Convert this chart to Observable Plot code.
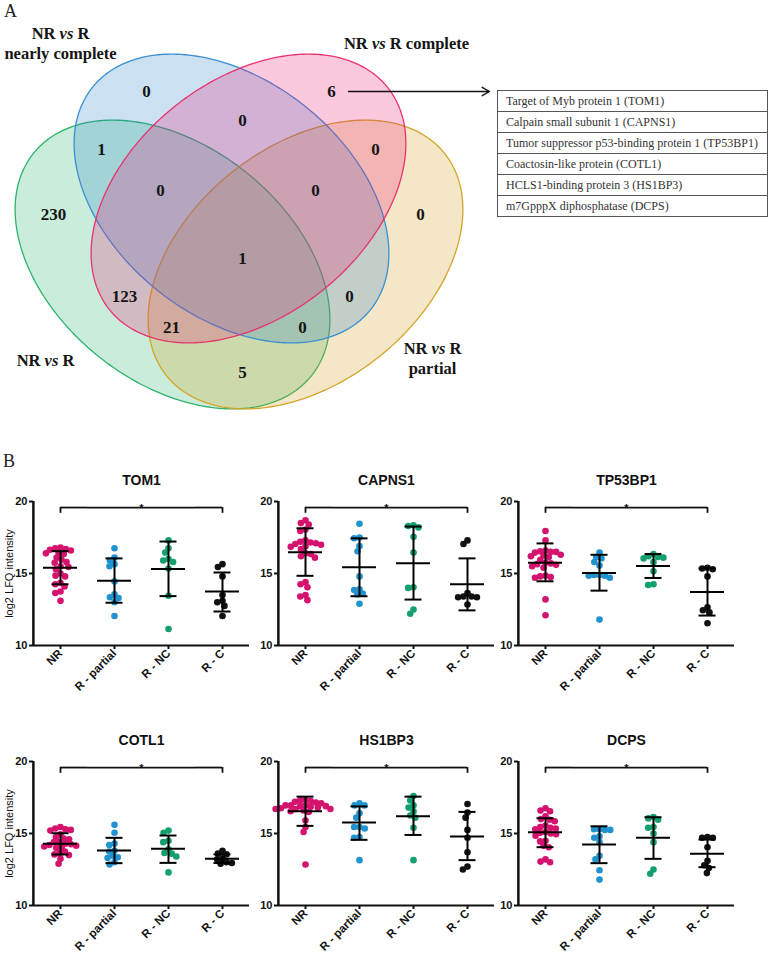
<!DOCTYPE html>
<html><head><meta charset="utf-8">
<script src="https://cdn.jsdelivr.net/npm/d3@7"></script>
<script src="https://cdn.jsdelivr.net/npm/@observablehq/plot@0.6"></script>
<style>
html,body{margin:0;padding:0;background:#fff;}
body{width:770px;height:955px;position:relative;overflow:hidden;}
.abs{position:absolute;}
.lbl{font-family:"Liberation Serif","Times New Roman",serif;font-size:18px;color:#222;line-height:1;}
table.prot{border-collapse:collapse;font-family:"Liberation Serif","Times New Roman",serif;font-size:12px;color:#333;background:#fff;}
table.prot td{border:1px solid #555;height:20px;padding:0 0 0 8px;width:261px;white-space:nowrap;}
svg{overflow:visible;}
</style></head><body>
<script>
// ---------------- Venn data ----------------
const vennSetNames = ["NR vs R", "NR vs R partial", "NR vs R nearly complete", "NR vs R complete"];
const vennRegions = ["B", "BP", "P", "GB", "PY", "GBP", "BPY", "G", "Y", "GBPY", "GP", "BY", "GPY", "GBY", "GY"];
const vennCounts  = [0, 0, 6, 1, 0, 0, 0, 230, 0, 1, 123, 0, 21, 0, 5];
const proteins = [
  "Target of Myb protein 1 (TOM1)",
  "Calpain small subunit 1 (CAPNS1)",
  "Tumor suppressor p53-binding protein 1 (TP53BP1)",
  "Coactosin-like protein (COTL1)",
  "HCLS1-binding protein 3 (HS1BP3)",
  "m7GpppX diphosphatase (DCPS)"
];

// ---------------- Dot-plot data ----------------
const groups = ["NR", "R - partial", "R - NC", "R - C"];
const yTicks = [10, 15, 20];
const comparison = ["NR", "R - C"];
const sigLabel = "*";

const TOM1_NR = [16.8, 16.75, 16.7, 16.65, 16.6, 16.45, 16.4, 16.35, 16.1, 15.95, 15.8, 15.75, 15.5, 15.45, 15.3, 15.0, 14.85, 14.8, 14.35, 14.25, 14.1, 13.75, 13.65, 13.1];
const TOM1_Rpartial = [16.75, 16.1, 15.9, 15.65, 15.5, 14.45, 13.55, 13.35, 13.3, 13.0, 12.05];
const TOM1_RNC = [17.3, 16.75, 16.45, 16.0, 15.9, 15.8, 15.35, 13.45, 11.15];
const TOM1_RC = [15.65, 15.45, 14.8, 13.5, 13.1, 13.0, 12.75, 12.05];
const TOM1_mean = [15.4, 14.5, 15.32, 13.75];
const TOM1_hi = [16.55, 16.05, 17.22, 15.07];
const TOM1_lo = [14.25, 12.97, 13.43, 12.36];

const CAPNS1_NR = [18.7, 18.5, 18.4, 18.05, 17.95, 17.3, 17.2, 17.15, 17.1, 17.05, 17.0, 16.9, 16.85, 16.7, 16.4, 16.35, 16.2, 16.1, 14.4, 14.25, 14.05, 13.5, 13.4, 13.15];
const CAPNS1_Rpartial = [18.45, 17.5, 17.45, 16.9, 16.55, 14.8, 13.9, 13.85, 13.6, 13.55, 12.9];
const CAPNS1_RNC = [18.35, 18.3, 18.2, 17.55, 16.45, 14.05, 14.0, 12.5, 12.2];
const CAPNS1_RC = [17.3, 17.05, 13.65, 13.4, 13.4, 13.35, 13.35, 12.85];
const CAPNS1_mean = [16.47, 15.44, 15.72, 14.26];
const CAPNS1_hi = [18.14, 17.44, 18.26, 16.05];
const CAPNS1_lo = [14.84, 13.42, 13.19, 12.44];

const TP53BP1_NR = [17.95, 17.3, 16.6, 16.55, 16.5, 16.5, 16.45, 16.3, 16.25, 16.2, 16.15, 15.95, 15.75, 15.7, 15.65, 15.6, 15.5, 15.4, 14.85, 14.8, 14.75, 14.7, 13.2, 12.1];
const TP53BP1_Rpartial = [16.45, 16.15, 16.05, 15.8, 15.55, 14.9, 14.9, 14.85, 14.85, 14.7, 11.8];
const TP53BP1_RNC = [16.35, 16.2, 16.15, 16.1, 16.05, 15.8, 15.15, 14.25, 14.2];
const TP53BP1_RC = [15.4, 15.35, 15.3, 14.8, 12.65, 12.45, 12.3, 11.55];
const TP53BP1_mean = [15.75, 15.03, 15.52, 13.72];
const TP53BP1_hi = [17.09, 16.3, 16.35, 15.36];
const TP53BP1_lo = [14.46, 13.81, 14.69, 12.08];

const COTL1_NR = [15.45, 15.35, 15.3, 15.25, 15.2, 14.95, 14.75, 14.65, 14.6, 14.4, 14.4, 14.3, 14.25, 14.2, 14.15, 14.1, 14.05, 14.0, 13.75, 13.65, 13.55, 13.5, 13.25, 12.9];
const COTL1_Rpartial = [15.6, 15.05, 14.3, 14.2, 13.8, 13.75, 13.45, 13.35, 13.3, 13.0, 12.85];
const COTL1_RNC = [15.2, 15.05, 14.5, 14.4, 13.9, 13.65, 13.6, 13.4, 12.3];
const COTL1_RC = [13.8, 13.6, 13.55, 13.25, 13.2, 13.0, 12.95, 12.9];
const COTL1_mean = [14.28, 13.82, 13.94, 13.24];
const COTL1_hi = [15.02, 14.7, 14.86, 13.55];
const COTL1_lo = [13.54, 12.94, 12.96, 12.95];

const HS1BP3_NR = [17.35, 17.3, 17.25, 17.2, 17.15, 17.1, 16.95, 16.95, 16.95, 16.9, 16.9, 16.85, 16.8, 16.75, 16.7, 16.7, 16.7, 16.6, 16.55, 16.5, 15.9, 15.45, 15.1, 12.85];
const HS1BP3_Rpartial = [17.1, 16.95, 16.95, 16.4, 16.1, 15.45, 15.45, 15.35, 14.75, 14.7, 13.15];
const HS1BP3_RNC = [17.6, 17.3, 16.95, 16.8, 16.55, 16.25, 16.1, 15.4, 13.15];
const HS1BP3_RC = [17.05, 16.45, 16.1, 15.25, 14.7, 13.7, 12.7, 12.5];
const HS1BP3_mean = [16.55, 15.77, 16.2, 14.8];
const HS1BP3_hi = [17.56, 16.88, 17.56, 16.5];
const HS1BP3_lo = [15.53, 14.56, 14.9, 13.15];

const DCPS_NR = [16.75, 16.6, 16.55, 16.2, 16.0, 15.95, 15.85, 15.55, 15.45, 15.4, 15.35, 15.3, 15.1, 15.05, 15.0, 14.95, 14.85, 14.5, 14.45, 14.15, 14.05, 13.2, 13.05, 13.0];
const DCPS_Rpartial = [15.3, 15.3, 15.25, 15.25, 14.8, 14.7, 14.4, 13.45, 13.2, 12.45, 11.8];
const DCPS_RNC = [16.15, 16.05, 15.95, 15.45, 15.4, 15.0, 14.4, 12.5, 12.2];
const DCPS_RC = [14.75, 14.7, 14.7, 14.05, 13.1, 12.8, 12.6, 12.25];
const DCPS_mean = [15.09, 14.24, 14.7, 13.59];
const DCPS_hi = [16.06, 15.5, 16.13, 14.58];
const DCPS_lo = [14.05, 12.94, 13.24, 12.66];

// ---------------- Styles / layout ----------------
const groupColors = ["#d4136e", "#2192d0", "#14a06c", "#111111"];
const ellipseStyle = {
  "NR vs R":                 {cx: 172, cy: 264, rotate: 38.6,  stroke: "#2db36a", fill: "#1fb363"},
  "NR vs R partial":         {cx: 305, cy: 264, rotate: -38.6, stroke: "#d4a52a", fill: "#cf9b13"},
  "NR vs R nearly complete": {cx: 231, cy: 198, rotate: 38.6,  stroke: "#3a8fd3", fill: "#2783c7"},
  "NR vs R complete":        {cx: 248, cy: 198, rotate: -38.6, stroke: "#e8336f", fill: "#ef1b73"}
};
const ellipseRadii = {rx: 178, ry: 118};
const regionLabelPos = [[146,91],[242,120],[331,91],[101,149],[375,149],[160,190],[315,190],[53,214],[420,214],[242,258],[124,296],[349,296],[171,327],[302,327],[242,372]];
const setLabelLayout = [
  {set: "NR vs R nearly complete", lines: ["NR vs R", "nearly complete"], x: 60, y: 33},
  {set: "NR vs R complete", lines: ["NR vs R complete"], x: 406, y: 43},
  {set: "NR vs R", lines: ["NR vs R"], x: 45, y: 360},
  {set: "NR vs R partial", lines: ["NR vs R", "partial"], x: 432, y: 348}
];
const arrowLayout = {x1: 348, x2: 489, y: 91};

function ellipsePoints(e, n = 240) {
  const t = e.rotate * Math.PI / 180;
  return d3.range(n).map(k => {
    const a = 2 * Math.PI * k / n;
    const u = ellipseRadii.rx * Math.cos(a), v = ellipseRadii.ry * Math.sin(a);
    return {x: e.cx + u * Math.cos(t) - v * Math.sin(t), y: e.cy + u * Math.sin(t) + v * Math.cos(t)};
  });
}

function place(el, left, top) {
  const d = document.createElement("div");
  d.className = "abs";
  d.style.left = left + "px";
  d.style.top = top + "px";
  d.appendChild(el);
  document.body.appendChild(d);
  return d;
}

// ---------------- Venn diagram ----------------
const regionData = vennRegions.map((r, i) => ({region: r, count: vennCounts[i], x: regionLabelPos[i][0], y: regionLabelPos[i][1]}));
const setLabelData = setLabelLayout.flatMap(s => s.lines.map((line, k) => ({text: line, x: s.x, y: s.y + k * 20})));
const drawOrder = ["NR vs R", "NR vs R partial", "NR vs R nearly complete", "NR vs R complete"];

const venn = Plot.plot({
  width: 770, height: 440, margin: 0,
  x: {domain: [0, 770], range: [0, 770], axis: null},
  y: {domain: [0, 440], range: [0, 440], axis: null},
  style: {fontFamily: "'Liberation Serif','Times New Roman',serif", background: "transparent"},
  marks: [
    ...drawOrder.map(name => {
      const e = ellipseStyle[name];
      return Plot.line(ellipsePoints(e), {x: "x", y: "y", curve: "linear-closed", fill: e.fill, fillOpacity: 0.24, stroke: e.stroke, strokeWidth: 1.3});
    }),
    Plot.text(regionData, {x: "x", y: "y", text: d => String(d.count), fontSize: 17, fontWeight: "bold", fill: "#151515"}),
    Plot.text(setLabelData, {x: "x", y: "y", text: "text", fontSize: 16.5, fontWeight: "bold", fill: "#151515"}),
    Plot.arrow([arrowLayout], {x1: "x1", y1: "y", x2: "x2", y2: "y", stroke: "#111", strokeWidth: 1.4, headLength: 9})
  ]
});
d3.select(venn).selectAll("text").each(function () {
  const t = this.textContent;
  if (/ vs /.test(t)) {
    const [a, b] = t.split(" vs ");
    const s = d3.select(this);
    s.text(null);
    s.append("tspan").text(a + " ");
    s.append("tspan").attr("font-style", "italic").text("vs");
    s.append("tspan").text(" " + b);
  }
});
place(venn, 0, 0);

// letter labels
const A = document.createElement("div"); A.className = "lbl"; A.textContent = "A"; place(A, 4, 2);
const B = document.createElement("div"); B.className = "lbl"; B.textContent = "B"; place(B, 3, 452);

// protein table
const table = d3.create("table").attr("class", "prot");
table.selectAll("tr").data(proteins).join("tr").append("td").text(d => d);
place(table.node(), 497, 90);

// ---------------- Dot plots ----------------
const panels = [
  {title: "TOM1", series: [TOM1_NR, TOM1_Rpartial, TOM1_RNC, TOM1_RC], mean: TOM1_mean, hi: TOM1_hi, lo: TOM1_lo},
  {title: "CAPNS1", series: [CAPNS1_NR, CAPNS1_Rpartial, CAPNS1_RNC, CAPNS1_RC], mean: CAPNS1_mean, hi: CAPNS1_hi, lo: CAPNS1_lo},
  {title: "TP53BP1", series: [TP53BP1_NR, TP53BP1_Rpartial, TP53BP1_RNC, TP53BP1_RC], mean: TP53BP1_mean, hi: TP53BP1_hi, lo: TP53BP1_lo},
  {title: "COTL1", series: [COTL1_NR, COTL1_Rpartial, COTL1_RNC, COTL1_RC], mean: COTL1_mean, hi: COTL1_hi, lo: COTL1_lo},
  {title: "HS1BP3", series: [HS1BP3_NR, HS1BP3_Rpartial, HS1BP3_RNC, HS1BP3_RC], mean: HS1BP3_mean, hi: HS1BP3_hi, lo: HS1BP3_lo},
  {title: "DCPS", series: [DCPS_NR, DCPS_Rpartial, DCPS_RNC, DCPS_RC], mean: DCPS_mean, hi: DCPS_hi, lo: DCPS_lo}
];
const panelLeft = [0, 245, 485];
const rowTop = [460, 720];
const rowMarginBottom = [60, 50];
const mTop = 41, mLeft = 32, mRight = 4, innerW = 218, innerH = 144;
const bandW = innerW / groups.length;
const bracketY = 19.58, bracketDrop = 19.18;

function panelPlot(p, showYLabel, marginBottom) {
  const rows = groups.flatMap((g, i) => p.series[i].map(v => ({g, v})));
  const stats = groups.map((g, i) => ({g, mean: p.mean[i], lo: p.lo[i], hi: p.hi[i]}));
  const i0 = groups.indexOf(comparison[0]), i1 = groups.indexOf(comparison[1]);
  const span = groups.slice(i0, i1 + 1).map((g, k, a) => ({g, x1: k === 0 ? 0.5 : 0, x2: k === a.length - 1 ? 0.5 : 1}));
  const ends = comparison.map(g => ({g, y1: bracketY, y2: bracketDrop}));
  const yLine = [{g: groups[0], y1: yTicks[0], y2: yTicks[yTicks.length - 1]}];
  const midIdx = Math.floor((i0 + i1) / 2);
  const midIsEdge = (i0 + i1) % 2 === 1;
  const titleIdx = 1;
  const marks = [
    Plot.ruleY([yTicks[0]], {stroke: "#111", strokeWidth: 2}),
    Plot.axisY({ticks: yTicks, tickSize: 4, tickPadding: 2, label: null, fontSize: 11, fontWeight: "bold", strokeWidth: 2, fill: "#111"}),
    Plot.axisFx({anchor: "bottom", tickRotate: -45, tickSize: 4, tickPadding: 2, label: null, fontSize: 11.5, fontWeight: "bold", strokeWidth: 2, fill: "#111"}),
    Plot.dot(rows, Plot.dodgeX({anchor: "middle", padding: -1.2}, {fx: "g", y: "v", r: 3.3, fill: "g"})),
    Plot.ruleX(stats, {fx: "g", x: null, y1: "lo", y2: "hi", stroke: "#000", strokeWidth: 2}),
    Plot.tickY(stats, {fx: "g", y: "mean", stroke: "#000", strokeWidth: 2, insetLeft: 10, insetRight: 10}),
    Plot.tickY(stats, {fx: "g", y: "hi", stroke: "#000", strokeWidth: 2, insetLeft: 18.5, insetRight: 18.5}),
    Plot.tickY(stats, {fx: "g", y: "lo", stroke: "#000", strokeWidth: 2, insetLeft: 18.5, insetRight: 18.5}),
    Plot.ruleY(span, {fx: "g", y: bracketY, x1: "x1", x2: "x2", stroke: "#111", strokeWidth: 1.8}),
    Plot.ruleX(ends, {fx: "g", x: null, y1: "y1", y2: "y2", stroke: "#111", strokeWidth: 1.8}),
    Plot.text([{g: groups[midIdx], t: sigLabel}], {fx: "g", text: "t", y: bracketY, frameAnchor: midIsEdge ? "right" : "middle", textAnchor: "middle", lineAnchor: "bottom", dy: 4, fontSize: 11, fontWeight: "bold", fill: "#111"}),
    Plot.text([{g: groups[titleIdx], t: p.title}], {fx: "g", text: "t", frameAnchor: "top-right", textAnchor: "middle", lineAnchor: "middle", dy: -21, fontSize: 14, fontWeight: "bold", fill: "#111"})
  ];
  if (showYLabel) {
    marks.push(Plot.text([{g: groups[0], t: "log2 LFQ intensity"}], {fx: "g", text: "t", frameAnchor: "left", rotate: -90, textAnchor: "middle", lineAnchor: "middle", dx: -24, fontSize: 11, fill: "#111"}));
  }
  // y-axis line, drawn last: left edge of the first band
  marks.push(Plot.ruleX(yLine, {fx: "g", x: null, y1: "y1", y2: "y2", dx: -bandW / 2, stroke: "#111", strokeWidth: 2}));
  marks.push(Plot.tickX(yLine, {fx: "g", x: () => 0, stroke: "#111", strokeWidth: 2}));
  return Plot.plot({
    width: mLeft + innerW + mRight,
    height: mTop + innerH + marginBottom,
    marginTop: mTop, marginLeft: mLeft, marginRight: mRight, marginBottom,
    style: {fontFamily: "'Liberation Sans', Arial, sans-serif", background: "transparent", color: "#111"},
    fx: {domain: groups, padding: 0},
    x: {domain: [0, 1], axis: null},
    y: {domain: [yTicks[0], yTicks[yTicks.length - 1]]},
    color: {domain: groups, range: groupColors},
    marks
  });
}

panels.forEach((p, i) => {
  const row = Math.floor(i / 3), col = i % 3;
  const svg = panelPlot(p, col === 0, rowMarginBottom[row]);
  place(svg, panelLeft[col], rowTop[row]);
});
</script>
</body></html>
